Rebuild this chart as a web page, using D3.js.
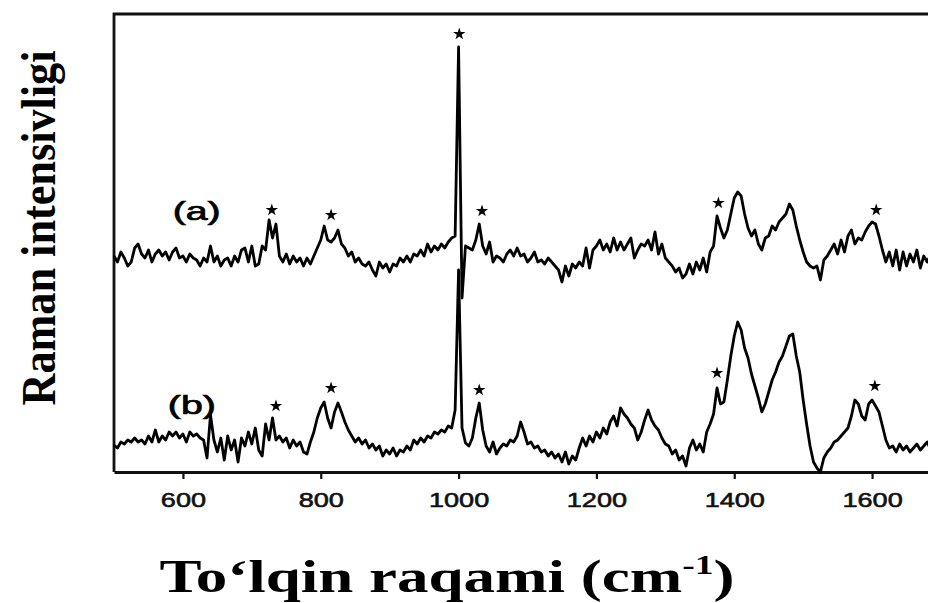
<!DOCTYPE html>
<html>
<head>
<meta charset="utf-8">
<script src="https://d3js.org/d3.v7.min.js"></script>
<style>
  body { margin: 0; background: #fff; }
</style>
</head>
<body>
<script>
// wavenumber grid (cm-1), one sample every 5 cm-1
var wavenumbers = [
  500,505,510,515,520,525,530,535,540,545,550,555,560,565,570,575,580,585,590,595,
  600,605,610,615,620,625,630,635,640,645,650,655,660,665,670,675,680,685,690,695,
  700,705,710,715,720,725,730,735,740,745,750,755,760,765,770,775,780,785,790,795,
  800,805,810,815,820,825,830,835,840,845,850,855,860,865,870,875,880,885,890,895,
  900,905,910,915,920,925,930,935,940,945,950,955,960,965,970,975,980,985,990,995,
  1000,1005,1010,1015,1020,1025,1030,1035,1040,1045,1050,1055,1060,1065,1070,1075,1080,1085,1090,1095,
  1100,1105,1110,1115,1120,1125,1130,1135,1140,1145,1150,1155,1160,1165,1170,1175,1180,1185,1190,1195,
  1200,1205,1210,1215,1220,1225,1230,1235,1240,1245,1250,1255,1260,1265,1270,1275,1280,1285,1290,1295,
  1300,1305,1310,1315,1320,1325,1330,1335,1340,1345,1350,1355,1360,1365,1370,1375,1380,1385,1390,1395,
  1400,1405,1410,1415,1420,1425,1430,1435,1440,1445,1450,1455,1460,1465,1470,1475,1480,1485,1490,1495,
  1500,1505,1510,1515,1520,1525,1530,1535,1540,1545,1550,1555,1560,1565,1570,1575,1580,1585,1590,1595,
  1600,1605,1610,1615,1620,1625,1630,1635,1640,1645,1650,1655,1660,1665,1670,1675,1680,1685,1690,1695,
  1700
];

// spectrum (a), stacked above (b) - arbitrary units
var intensityA = [
  2160,2100,2200,2140,2060,2100,2240,2280,2180,2140,2220,2100,2180,2220,2160,2200,2120,2200,2240,2140,
  2160,2100,2180,2140,2120,2060,2140,2100,2260,2100,2160,2060,2120,2140,2060,2160,2100,2220,2240,2100,
  2260,2060,2080,2260,2220,2520,2340,2480,2160,2100,2180,2080,2160,2100,2140,2060,2140,2080,2160,2240,
  2320,2460,2320,2300,2340,2420,2280,2240,2160,2200,2100,2140,2080,2060,2100,2020,1960,2100,2040,2080,
  2000,2080,2060,2140,2100,2160,2100,2180,2160,2220,2160,2280,2200,2260,2220,2280,2240,2300,2340,2360,
  4250,1740,2260,2240,2220,2320,2480,2260,2180,2300,2100,2160,2140,2100,2180,2220,2160,2240,2160,2180,
  2100,2140,2200,2100,2120,2080,2140,2100,2060,2020,1900,2060,1960,2080,2040,2100,2060,2240,2040,2220,
  2260,2320,2220,2280,2200,2340,2220,2300,2220,2280,2340,2140,2220,2280,2260,2320,2220,2400,2180,2280,
  2140,2100,2060,2000,2040,1940,1980,2080,1980,2100,2020,2140,2000,2200,2260,2560,2440,2340,2420,2580,
  2740,2800,2760,2580,2440,2360,2420,2280,2220,2340,2360,2460,2420,2500,2540,2580,2680,2620,2460,2320,
  2200,2100,2060,2040,2060,1920,2120,2160,2220,2280,2180,2320,2200,2360,2420,2280,2340,2320,2400,2460,
  2500,2480,2360,2220,2100,2200,2060,2220,2020,2200,2060,2180,2100,2220,2040,2160,2100,2180,2120,2160,
  2140
];

// spectrum (b)
var intensityB = [
  270,240,300,280,320,300,340,300,320,280,360,300,420,300,360,320,400,360,400,340,
  380,300,400,360,380,340,320,140,570,320,200,340,120,360,220,320,100,340,260,400,
  280,440,220,160,480,320,540,320,360,300,340,240,320,260,300,200,180,300,400,540,
  640,700,540,440,600,690,600,500,420,360,300,340,280,320,240,280,220,260,160,220,
  180,240,160,220,200,260,220,320,280,340,300,360,340,400,380,420,400,460,440,620,
  2020,440,290,260,340,540,690,420,260,200,300,180,240,280,260,320,300,360,500,400,
  280,300,240,260,200,220,160,200,140,180,100,200,80,160,120,240,340,260,360,300,
  400,340,440,380,500,560,460,640,580,540,480,440,320,400,520,620,520,460,420,340,
  280,260,180,220,120,160,60,240,320,220,280,200,400,480,580,840,680,700,920,1160,
  1360,1500,1420,1240,1140,980,860,740,600,680,800,920,1000,1100,1160,1260,1360,1380,1160,1000,
  720,480,260,100,40,0,140,200,240,300,320,360,400,440,560,720,680,560,520,680,
  720,660,600,460,320,240,260,200,280,220,260,200,240,280,220,260,300,220,260,240,
  280
];

var xTicks = [600, 800, 1000, 1200, 1400, 1600];

// asterisk marks over assigned bands: [wavenumber, intensity]
var starsA = [[729, 2620], [815, 2570], [1001, 4380], [1034, 2610], [1377, 2690], [1606, 2620]];
var starsB = [[735, 660], [815, 840], [1030, 820], [1375, 990], [1604, 860]];

// trace labels: [text, wavenumber, intensity]
var traceLabels = [["(a)", 620, 2520], ["(b)", 613, 580]];

var width = 928, height = 603;

var svg = d3.select("body").append("svg")
  .attr("width", width)
  .attr("height", height);

var x = d3.scaleLinear().domain([500, 1700]).range([114, 941]);
var y = d3.scaleLinear().domain([0, 4580]).range([472, 14]);

// frame: top and left edges (right edge falls outside the picture)
svg.append("path")
  .attr("d", "M" + x(1700) + "," + y(4580) + "H" + x(500) + "V" + y(0))
  .attr("fill", "none")
  .attr("stroke", "#111")
  .attr("stroke-width", 2.8);

var xAxis = svg.append("g")
  .attr("transform", "translate(0," + y(0) + ")")
  .call(d3.axisBottom(x).tickValues(xTicks).tickFormat(d3.format("d"))
    .tickSize(7).tickSizeOuter(0).tickPadding(13));

xAxis.select(".domain").attr("stroke", "#111").attr("stroke-width", 2.8);
xAxis.selectAll(".tick line").attr("stroke", "#111").attr("stroke-width", 2.2);
xAxis.selectAll(".tick text")
  .attr("fill", "#111")
  .attr("stroke", "#111")
  .attr("stroke-width", 0.6)
  .style("font-family", "'Liberation Sans', Arial, sans-serif")
  .style("font-size", "21px")
  .each(function () {
    var w = this.getComputedTextLength();
    d3.select(this).attr("textLength", w * 1.29).attr("lengthAdjust", "spacingAndGlyphs");
  });

var line = d3.line()
  .x(function (d, i) { return x(wavenumbers[i]); })
  .y(function (d) { return y(d); });

[intensityA, intensityB].forEach(function (series) {
  svg.append("path")
    .datum(series)
    .attr("d", line)
    .attr("fill", "none")
    .attr("stroke", "#000")
    .attr("stroke-width", 2.8)
    .attr("stroke-linejoin", "round");
});

var star = d3.symbol().type(d3.symbolStar).size(48);
svg.selectAll(".star")
  .data(starsA.concat(starsB))
  .enter().append("path")
  .attr("class", "star")
  .attr("d", star)
  .attr("fill", "#000")
  .attr("transform", function (d) { return "translate(" + x(d[0]) + "," + y(d[1]) + ")"; });

svg.selectAll(".trace-label")
  .data(traceLabels)
  .enter().append("text")
  .attr("class", "trace-label")
  .attr("x", function (d) { return x(d[1]); })
  .attr("y", function (d) { return y(d[2]); })
  .attr("text-anchor", "middle")
  .attr("fill", "#000")
  .attr("stroke", "#000")
  .attr("stroke-width", 0.7)
  .style("font-family", "'Liberation Sans', Arial, sans-serif")
  .style("font-size", "25px")
  .attr("textLength", 48)
  .attr("lengthAdjust", "spacingAndGlyphs")
  .text(function (d) { return d[0]; });

// axis titles
svg.append("text")
  .attr("transform", "translate(55,228) rotate(-90)")
  .attr("text-anchor", "middle")
  .attr("textLength", 355)
  .attr("lengthAdjust", "spacingAndGlyphs")
  .style("font-family", "'Liberation Serif', 'Times New Roman', serif")
  .style("font-weight", "bold")
  .style("font-size", "48px")
  .text("Raman intensivligi");

var xTitle = svg.append("text")
  .attr("x", 447)
  .attr("y", 592)
  .attr("text-anchor", "middle")
  .attr("textLength", 575)
  .attr("lengthAdjust", "spacingAndGlyphs")
  .style("font-family", "'Liberation Serif', 'Times New Roman', serif")
  .style("font-weight", "bold")
  .style("font-size", "47px");
xTitle.append("tspan").text("To\u2018lqin raqami (cm");
xTitle.append("tspan").attr("dy", -18).style("font-size", "28px").text("-1");
xTitle.append("tspan").attr("dy", 18).text(")");
</script>
</body>
</html>
